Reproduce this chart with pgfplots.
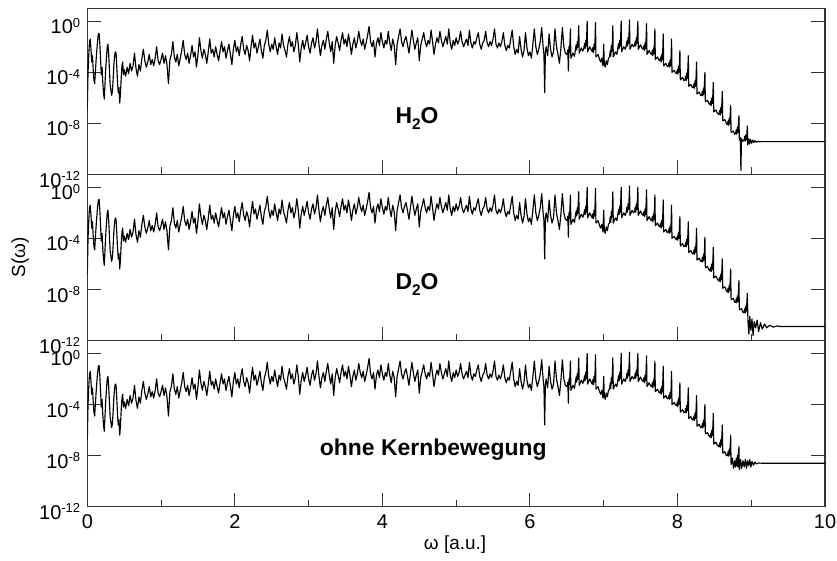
\documentclass[border=0pt]{standalone}
\usepackage{fontspec}
\setmainfont{Liberation Sans}
\usepackage{pgfplots}
\usepackage{pgfplotstable}
\pgfplotsset{compat=1.18}
\newcommand{\sps}[1]{\raisebox{6.5bp}{\fontsize{13}{13}\selectfont #1}}
\newcommand{\sbs}[1]{\raisebox{-6bp}{\fontsize{15.5}{15.5}\selectfont #1}}

% log10 of S(omega); shared part of the spectrum, x < 7.98
\pgfplotstableread{
x e
0.000 -6.8
0.010 -4.0
0.020 -2.6
0.030 -1.6
0.040 -1.4
0.050 -2.2
0.060 -3.2
0.070 -2.7
0.080 -3.8
0.090 -4.6
0.100 -4.9
0.110 -3.9
0.120 -3.0
0.130 -2.2
0.140 -1.5
0.150 -1.0
0.160 -0.95
0.170 -1.8
0.180 -3.0
0.190 -4.2
0.200 -3.6
0.210 -4.8
0.220 -5.6
0.230 -6.1
0.240 -4.9
0.250 -3.7
0.260 -2.8
0.270 -2.0
0.280 -1.8
0.290 -2.6
0.300 -3.8
0.310 -5.0
0.320 -5.4
0.330 -5.8
0.340 -5.5
0.350 -4.6
0.360 -3.5
0.370 -2.7
0.380 -2.4
0.390 -2.5
0.400 -3.6
0.410 -4.8
0.420 -5.6
0.430 -5.2
0.440 -6.4
0.450 -5.6
0.460 -4.4
0.470 -3.5
0.480 -3.2
0.490 -4.2
0.500 -3.8
0.52 -4.3
0.54 -3.6
0.56 -4.1
0.58 -3.3
0.60 -3.9
0.62 -3.5
0.64 -2.5
0.66 -3.7
0.68 -4.3
0.70 -3.4
0.72 -3.9
0.74 -2.9
0.76 -2.2
0.78 -3.1
0.80 -3.6
0.82 -3.2
0.84 -2.6
0.86 -3.4
0.88 -3.0
0.90 -3.5
0.92 -2.9
0.94 -2.0
0.96 -3.1
0.98 -3.4
1.00 -3.0
1.02 -2.5
1.04 -3.3
1.06 -2.7
1.08 -3.4
1.10 -4.9
1.12 -3.0
1.14 -2.6
1.16 -1.6
1.18 -2.8
1.20 -3.2
1.22 -2.6
1.24 -3.5
1.26 -2.9
1.28 -2.3
1.30 -1.5
1.32 -2.6
1.34 -3.0
1.36 -2.5
1.38 -3.3
1.40 -2.7
1.42 -1.9
1.44 -2.8
1.46 -2.4
1.48 -3.6
1.50 -2.6
1.52 -1.3
1.54 -2.3
1.56 -2.9
1.58 -2.2
1.60 -2.6
1.62 -3.3
1.64 -2.4
1.66 -1.4
1.68 -2.5
1.70 -2.2
1.72 -2.8
1.74 -2.0
1.76 -2.6
1.78 -3.1
1.80 -2.3
1.82 -1.6
1.84 -2.4
1.86 -2.0
1.88 -2.9
1.90 -2.3
1.92 -1.8
1.94 -2.6
1.96 -3.4
1.98 -2.2
2.00 -1.5
2.02 -2.4
2.04 -2.0
2.06 -2.7
2.08 -1.8
2.10 -1.2
2.12 -2.2
2.14 -2.6
2.16 -1.9
2.18 -2.3
2.20 -3.1
2.22 -2.0
2.24 -1.1
2.26 -2.1
2.28 -1.7
2.30 -2.5
2.32 -2.0
2.34 -1.4
2.36 -2.3
2.38 -2.9
2.40 -1.9
2.42 -1.5
2.44 -0.7
2.46 -1.8
2.48 -2.4
2.50 -1.8
2.52 -2.2
2.54 -1.3
2.56 -2.0
2.58 -2.6
2.60 -1.7
2.62 -2.1
2.64 -1.0
2.66 -1.9
2.68 -2.3
2.70 -2.8
2.72 -1.8
2.74 -1.2
2.76 -2.0
2.78 -1.6
2.80 -2.4
2.82 -1.9
2.84 -0.9
2.86 -1.8
2.88 -3.2
2.90 -2.1
2.92 -1.5
2.94 -2.2
2.96 -1.7
2.98 -1.1
3.00 -2.0
3.02 -2.5
3.04 -1.7
3.06 -1.3
3.08 -2.1
3.10 -1.6
3.12 -0.6
3.14 -1.8
3.16 -2.7
3.18 -1.9
3.20 -1.5
3.22 -2.2
3.24 -1.4
3.26 -0.8
3.28 -1.7
3.30 -2.4
3.32 -1.6
3.34 -3.3
3.36 -1.9
3.38 -1.2
3.40 -1.7
3.42 -2.3
3.44 -1.5
3.46 -0.9
3.48 -1.8
3.50 -1.4
3.52 -2.0
3.54 -1.0
3.56 -1.7
3.58 -2.6
3.60 -1.8
3.62 -1.3
3.64 -2.1
3.66 -1.6
3.68 -0.8
3.70 -1.5
3.72 -1.9
3.74 -1.4
3.76 -2.2
3.78 -1.7
3.80 -1.1
3.82 -0.4
3.84 -1.6
3.86 -2.0
3.88 -1.5
3.90 -2.8
3.92 -1.7
3.94 -1.3
3.96 -1.9
3.98 -0.9
4.00 -1.6
4.02 -2.1
4.04 -1.5
4.06 -1.8
4.08 -0.8
4.10 -1.7
4.12 -2.3
4.14 -1.4
4.16 -1.9
4.18 -3.4
4.20 -1.8
4.22 -1.2
4.24 -0.6
4.26 -1.6
4.28 -2.0
4.30 -1.5
4.32 -1.2
4.34 -1.8
4.36 -2.5
4.38 -1.6
4.40 -0.7
4.42 -1.5
4.44 -2.2
4.46 -1.7
4.48 -1.3
4.50 -3.1
4.52 -1.9
4.54 -1.4
4.56 -0.9
4.58 -1.6
4.60 -2.0
4.62 -1.5
4.64 -1.8
4.66 -0.7
4.68 -1.6
4.70 -2.6
4.72 -1.8
4.74 -1.3
4.76 -1.7
4.78 -0.8
4.80 -1.5
4.82 -2.0
4.84 -1.6
4.86 -1.2
4.88 -1.8
4.90 -0.6
4.92 -1.7
4.94 -2.2
4.96 -1.5
4.98 -1.9
5.00 -1.3
5.02 -1.8
5.04 -1.5
5.06 -0.8
5.08 -1.6
5.10 -2.0
5.12 -1.7
5.14 -1.4
5.16 -1.9
5.18 -0.7
5.20 -1.7
5.22 -2.1
5.24 -1.6
5.26 -1.8
5.28 -1.3
5.30 -0.9
5.32 -1.8
5.34 -2.2
5.36 -1.7
5.38 -1.5
5.40 -0.8
5.42 -1.7
5.44 -2.0
5.46 -1.6
5.48 -1.9
5.50 -1.4
5.52 -0.6
5.54 -1.8
5.56 -2.1
5.58 -1.7
5.60 -2.0
5.62 -1.6
5.64 -0.9
5.66 -1.9
5.68 -2.3
5.70 -1.9
5.72 -2.1
5.74 -1.4
5.76 -0.7
5.78 -2.0
5.80 -2.6
5.82 -2.2
5.84 -2.5
5.86 -1.2
5.88 -2.2
5.90 -2.8
5.92 -2.3
5.94 -0.9
5.96 -2.1
5.98 -2.7
6.00 -2.4
6.02 -2.9
6.04 -1.8
6.06 -0.6
6.08 -2.0
6.10 -2.6
6.12 -2.2
6.14 -1.6
6.16 -0.5
6.18 -2.1
6.19 -2.6
6.20 -5.6
6.21 -2.4
6.22 -2.0
6.24 -2.7
6.26 -1.0
6.28 -2.2
6.30 -2.8
6.32 -2.4
6.34 -0.6
6.36 -2.0
6.38 -2.6
6.40 -3.3
6.42 -2.1
6.44 -0.5
6.46 -2.0
6.48 -2.5
6.504 -2.6
6.514 -2.25
6.521 -3.9
6.529 -2.0
6.535 -2.45
6.543 -1.6
6.549 -0.6
6.555 -2.9
6.584 -2.5
6.604 -2.75
6.617 -2.2
6.627 -1.85
6.634 -2.25
6.642 -1.6
6.648 -2.05
6.656 -1.2
6.662 -0.35
6.668 -2.5
6.697 -2.1
6.717 -2.35
6.731 -2.1
6.741 -1.75
6.748 -2.15
6.756 -1.5
6.762 -1.95
6.770 -1.1
6.776 0.0
6.782 -2.4
6.811 -2.0
6.831 -2.25
6.844 -2.4
6.854 -2.05
6.861 -2.45
6.869 -1.8
6.875 -2.25
6.883 -1.4
6.889 -0.1
6.895 -2.8
6.924 -2.6
6.944 -3.0
6.960 -3.2
6.975 -2.9
6.990 -3.5
7.000 -1.8
7.008 -3.3
7.020 -3.6
7.035 -3.1
7.050 -3.4
7.065 -2.9
7.079 -2.8
7.089 -2.3
7.096 -2.75
7.104 -1.9
7.110 -2.35
7.118 -1.5
7.124 -0.35
7.130 -2.8
7.159 -2.4
7.179 -2.6
7.192 -2.1
7.202 -1.75
7.209 -2.15
7.217 -1.5
7.223 -1.95
7.231 -1.1
7.237 0.0
7.243 -2.4
7.272 -2.0
7.292 -2.2
7.305 -1.95
7.315 -1.55
7.322 -1.95
7.330 -1.3
7.336 -1.75
7.344 -0.9
7.350 0.1
7.356 -2.2
7.385 -1.8
7.405 -2.0
7.418 -1.9
7.428 -1.55
7.435 -1.95
7.443 -1.3
7.449 -1.75
7.457 -0.9
7.463 0.0
7.469 -2.2
7.498 -1.85
7.518 -2.1
7.536 -2.2
7.546 -1.9
7.553 -2.3
7.561 -1.7
7.567 -2.15
7.575 -1.3
7.581 -0.2
7.587 -2.6
7.616 -2.3
7.636 -2.55
7.649 -2.6
7.659 -2.3
7.666 -2.7
7.674 -2.1
7.680 -2.55
7.688 -1.7
7.694 -0.6
7.700 -3.0
7.729 -2.8
7.749 -3.05
7.762 -3.1
7.772 -2.8
7.779 -3.2
7.787 -2.6
7.793 -3.05
7.801 -2.2
7.807 -1.0
7.813 -3.5
7.842 -3.3
7.862 -3.55
7.875 -3.5
7.885 -3.25
7.892 -3.6
7.900 -3.05
7.906 -3.5
7.914 -2.7
7.920 -1.4
7.926 -4.0
7.955 -3.85
7.975 -4.05
}\body

% tail, H2O
\pgfplotstableread{
x e
7.975 -4.05
7.988 -4.1
7.998 -3.8
8.005 -4.15
8.013 -3.55
8.019 -4.0
8.027 -3.2
8.033 -2.3
8.039 -4.6
8.068 -4.4
8.088 -4.65
8.102 -4.6
8.112 -4.3
8.119 -4.65
8.127 -4.05
8.133 -4.5
8.141 -3.7
8.147 -2.7
8.153 -5.1
8.182 -4.95
8.202 -5.2
8.214 -5.2
8.224 -4.9
8.231 -5.25
8.239 -4.65
8.245 -5.1
8.253 -4.3
8.259 -3.2
8.265 -5.7
8.294 -5.55
8.314 -5.8
8.327 -5.8
8.337 -5.5
8.344 -5.85
8.352 -5.25
8.358 -5.7
8.366 -4.9
8.372 -4.0
8.378 -6.3
8.407 -6.2
8.427 -6.45
8.441 -6.55
8.451 -6.25
8.458 -6.6
8.466 -6.0
8.472 -6.45
8.480 -5.7
8.486 -4.8
8.492 -7.1
8.521 -6.95
8.541 -7.2
8.563 -7.3
8.573 -7.0
8.580 -7.35
8.588 -6.75
8.594 -7.2
8.602 -6.4
8.608 -5.5
8.614 -7.8
8.643 -7.7
8.663 -8.0
8.676 -8.1
8.686 -7.8
8.693 -8.15
8.701 -7.6
8.707 -8.05
8.715 -7.3
8.721 -6.6
8.727 -8.7
8.756 -8.6
8.776 -8.85
8.788 -8.8
8.798 -8.5
8.805 -8.85
8.813 -8.3
8.819 -8.7
8.827 -8.0
8.833 -7.4
8.839 -9.3
8.852 -9.1
8.860 -11.7
8.868 -9.2
8.888 -9.4
8.902 -9.3
8.912 -9.0
8.919 -9.4
8.927 -8.9
8.933 -9.3
8.941 -8.8
8.947 -8.2
8.953 -9.7
8.965 -9.2
8.978 -9.6
8.990 -9.25
9.005 -9.55
9.020 -9.3
9.035 -9.5
9.050 -9.35
9.070 -9.48
9.090 -9.4
9.110 -9.45
9.140 -9.42
9.200 -9.43
10.00 -9.43
}\tailH

% tail, D2O
\pgfplotstableread{
x e
7.975 -4.05
7.988 -4.1
7.998 -3.8
8.005 -4.15
8.013 -3.55
8.019 -4.0
8.027 -3.2
8.033 -2.3
8.039 -4.6
8.068 -4.4
8.088 -4.65
8.102 -4.6
8.112 -4.3
8.119 -4.65
8.127 -4.05
8.133 -4.5
8.141 -3.7
8.147 -2.7
8.153 -5.1
8.182 -4.95
8.202 -5.2
8.214 -5.2
8.224 -4.9
8.231 -5.25
8.239 -4.65
8.245 -5.1
8.253 -4.3
8.259 -3.2
8.265 -5.7
8.294 -5.55
8.314 -5.8
8.327 -5.8
8.337 -5.5
8.344 -5.85
8.352 -5.25
8.358 -5.7
8.366 -4.9
8.372 -3.9
8.378 -6.3
8.407 -6.2
8.427 -6.45
8.441 -6.55
8.451 -6.25
8.458 -6.6
8.466 -6.0
8.472 -6.45
8.480 -5.7
8.486 -4.7
8.492 -7.1
8.521 -6.95
8.541 -7.2
8.563 -7.35
8.573 -7.05
8.580 -7.4
8.588 -6.8
8.594 -7.25
8.602 -6.5
8.608 -5.6
8.614 -7.9
8.643 -7.8
8.663 -8.1
8.676 -8.2
8.686 -7.9
8.693 -8.25
8.701 -7.7
8.707 -8.1
8.715 -7.3
8.721 -6.4
8.727 -8.8
8.756 -8.7
8.776 -9.0
8.788 -9.0
8.798 -8.7
8.805 -9.05
8.813 -8.5
8.819 -8.95
8.827 -8.2
8.833 -7.3
8.839 -9.6
8.868 -9.5
8.888 -9.8
8.902 -9.8
8.912 -9.5
8.919 -9.85
8.927 -9.3
8.933 -9.7
8.941 -9.0
8.947 -8.3
8.955 -10.4
8.968 -11.5
8.980 -10.1
8.995 -11.2
9.010 -10.3
9.025 -11.6
9.040 -10.5
9.060 -11.0
9.080 -10.4
9.100 -11.3
9.125 -10.6
9.150 -11.1
9.180 -10.7
9.210 -11.0
9.250 -10.8
9.300 -10.95
9.350 -10.85
9.400 -10.9
10.00 -10.9
}\tailD

% tail, ohne Kernbewegung
\pgfplotstableread{
x e
7.975 -4.05
7.988 -4.1
7.998 -3.8
8.005 -4.15
8.013 -3.55
8.019 -4.0
8.027 -3.2
8.033 -2.3
8.039 -4.6
8.068 -4.4
8.088 -4.65
8.102 -4.6
8.112 -4.3
8.119 -4.65
8.127 -4.05
8.133 -4.5
8.141 -3.7
8.147 -2.7
8.153 -5.1
8.182 -4.95
8.202 -5.2
8.214 -5.2
8.224 -4.9
8.231 -5.25
8.239 -4.65
8.245 -5.1
8.253 -4.3
8.259 -3.3
8.265 -5.7
8.294 -5.55
8.314 -5.8
8.327 -5.8
8.337 -5.5
8.344 -5.85
8.352 -5.25
8.358 -5.7
8.366 -4.9
8.372 -4.0
8.378 -6.3
8.407 -6.2
8.427 -6.45
8.441 -6.55
8.451 -6.25
8.458 -6.6
8.466 -6.0
8.472 -6.45
8.480 -5.7
8.486 -4.7
8.492 -7.1
8.521 -6.95
8.541 -7.2
8.563 -7.3
8.573 -7.0
8.580 -7.35
8.588 -6.75
8.594 -7.2
8.602 -6.4
8.608 -5.6
8.614 -7.8
8.643 -7.7
8.663 -8.0
8.676 -8.0
8.686 -7.7
8.693 -8.05
8.701 -7.5
8.707 -7.95
8.715 -7.2
8.721 -6.4
8.727 -8.7
8.745 -8.2
8.760 -9.0
8.776 -8.4
8.788 -8.9
8.798 -8.2
8.805 -8.8
8.813 -8.0
8.819 -8.9
8.827 -7.9
8.833 -7.3
8.839 -9.1
8.855 -8.3
8.870 -9.0
8.888 -8.4
8.905 -8.9
8.920 -8.3
8.935 -9.0
8.950 -8.4
8.965 -8.8
8.980 -8.3
8.995 -8.9
9.010 -8.45
9.030 -8.75
9.050 -8.5
9.070 -8.65
9.100 -8.58
9.150 -8.6
10.00 -8.6
}\tailO

\tikzset{
  myspec/.style={black, line width=1.15pt, line join=round},
  mylab/.style={anchor=base, font=\fontsize{23}{27}\selectfont\bfseries},
}
\pgfplotsset{
  every axis/.append style={
    width=737.7bp, height=166.1bp, scale only axis,
    xmin=0, xmax=10, ymin=-12, ymax=1,
    xtick={0,2,4,6,8,10}, minor x tick num=1,
    xticklabels={0,2,4,6,8,10},
    ytick={-12,-8,-4,0},
    yticklabels={10\sps{-12},10\sps{-8},10\sps{-4},10\sps{0}},
    tick align=inside,
    xtick pos=left, ytick pos=both,
    major tick length=14bp, minor tick length=7bp,
    axis line style={black!80, line width=1.1bp},
    every tick/.append style={black!80, line width=1.1bp},
    every tick label/.append style={font=\fontsize{20}{22}\selectfont},
    every y tick label/.append style={anchor=base east, inner sep=0pt, xshift=-7bp, yshift=-12.6bp},
    every x tick label/.append style={anchor=base, inner sep=0pt, yshift=-22bp},
    every axis label/.append style={font=\fontsize{19}{22}\selectfont},
  },
}

\begin{document}
\begin{tikzpicture}
% bottom panel
\begin{axis}[at={(0,0)}, anchor=south west,
  xlabel={ω [a.u.]},
  xlabel style={at={(axis description cs:0.4985,-0.2306)}, anchor=center}]
  \addplot[myspec, mark=none] table[x=x, y=e] {\body};
  \addplot[myspec, mark=none] table[x=x, y=e] {\tailO};
  \node[mylab] at (axis cs:4.69,-8) {ohne Kernbewegung};
\end{axis}
% middle panel
\begin{axis}[at={(0,166.1bp)}, anchor=south west, xticklabels={},
  ylabel={S(ω)},
  ylabel style={at={(axis description cs:-0.0908,0.5)}, anchor=center}]
  \addplot[myspec, mark=none] table[x=x, y=e] {\body};
  \addplot[myspec, mark=none] table[x=x, y=e] {\tailD};
  \node[mylab] at (axis cs:4.47,-8) {D\sbs{2}O};
\end{axis}
% top panel
\begin{axis}[at={(0,332.2bp)}, anchor=south west, xticklabels={}]
  \addplot[myspec, mark=none] table[x=x, y=e] {\body};
  \addplot[myspec, mark=none] table[x=x, y=e] {\tailH};
  \node[mylab] at (axis cs:4.47,-8) {H\sbs{2}O};
\end{axis}
\pgfresetboundingbox
\path[use as bounding box] (-87.3bp,-54.3bp) rectangle (749.7bp,506.7bp);
\end{tikzpicture}
\end{document}
